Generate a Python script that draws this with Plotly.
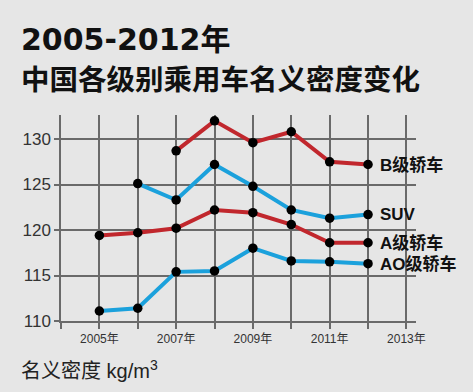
import plotly.graph_objects as go

years = [2005, 2006, 2007, 2008, 2009, 2010, 2011, 2012]
b_sedan = [None, None, 128.7, 132.0, 129.6, 130.8, 127.5, 127.2]
suv = [None, 125.1, 123.3, 127.2, 124.8, 122.2, 121.3, 121.7]
a_sedan = [119.4, 119.7, 120.2, 122.2, 121.9, 120.6, 118.6, 118.6]
a0_sedan = [111.1, 111.4, 115.4, 115.5, 118.0, 116.6, 116.5, 116.3]

series_names = ["B级轿车", "SUV", "A级轿车", "AO级轿车"]
series_values = [b_sedan, suv, a_sedan, a0_sedan]
series_colors = ["#c1272d", "#1ba1dc", "#c1272d", "#1ba1dc"]

x_tick_years = list(range(2004, 2014))
x_tick_labels = [f"{y}年" if y % 2 == 1 else "" for y in x_tick_years]
y_ticks = [110, 115, 120, 125, 130]

title1 = "2005-2012年"
title2 = "中国各级别乘用车名义密度变化"
unit_label = "名义密度 kg/m<sup>3</sup>"

W, H = 473, 392
ML, MR, MT, MB = 61, 57, 115, 71
PW = W - ML - MR
PH = H - MT - MB

def px2paper_x(px):
    return (px - ML) / PW

def px2paper_y(py):
    return (H - MB - py) / PH

fig = go.Figure()
for name, vals, col in zip(series_names, series_values, series_colors):
    xs = [x for x, v in zip(years, vals) if v is not None]
    ys = [v for v in vals if v is not None]
    fig.add_trace(go.Scatter(
        x=xs, y=ys, mode="lines+markers", name=name,
        line=dict(color=col, width=4),
        marker=dict(color="black", size=9.5, line=dict(width=0)),
        showlegend=False, hoverinfo="skip",
    ))
    fig.add_annotation(
        x=xs[-1], y=ys[-1], text=name, showarrow=False,
        xanchor="left", yanchor="middle", xshift=10, yshift=0,
        font=dict(family="Liberation Sans, Noto Sans CJK SC", size=17, color="#111", weight="bold"),
    )

fig.add_annotation(
    xref="paper", yref="paper", x=px2paper_x(19), y=px2paper_y(40),
    text=title1, showarrow=False, xanchor="left", yanchor="middle",
    font=dict(family="DejaVu Sans, Noto Sans CJK SC", size=30, color="#111", weight="bold"),
)
fig.add_annotation(
    xref="paper", yref="paper", x=px2paper_x(19), y=px2paper_y(77),
    text=title2, showarrow=False, xanchor="left", yanchor="middle",
    font=dict(family="Noto Sans CJK SC", size=28.5, color="#111", weight="bold"),
)
fig.add_annotation(
    xref="paper", yref="paper", x=px2paper_x(19), y=px2paper_y(369),
    text=unit_label, showarrow=False, xanchor="left", yanchor="middle",
    font=dict(family="Liberation Sans, Noto Sans CJK SC", size=20, color="#222"),
)

grid_col = "#6a6a6a"
fig.update_xaxes(
    range=[2004, 2013.25], tickvals=x_tick_years, ticktext=x_tick_labels,
    showgrid=True, gridcolor=grid_col, gridwidth=1.5,
    showline=True, linecolor=grid_col, linewidth=1.5,
    ticks="outside", ticklen=6, tickcolor=grid_col, tickwidth=1.5,
    tickfont=dict(family="Liberation Sans, Noto Sans CJK SC", size=12, color="#333"),
    zeroline=False, fixedrange=True,
)
fig.update_yaxes(
    range=[110, 132.64], tickvals=y_ticks,
    showgrid=True, gridcolor=grid_col, gridwidth=1.5,
    showline=True, linecolor=grid_col, linewidth=1.5,
    ticks="outside", ticklen=5, tickcolor=grid_col, tickwidth=1.5,
    tickfont=dict(family="Liberation Sans", size=17, color="#333"),
    zeroline=False, fixedrange=True,
)
fig.update_layout(
    width=W, height=H,
    margin=dict(l=ML, r=MR, t=MT, b=MB, autoexpand=False),
    paper_bgcolor="#e6e6e6", plot_bgcolor="#e6e6e6",
    showlegend=False,
)
fig.write_html(
    "out.html",
    config={"displayModeBar": False},
    post_script="document.body.style.margin='0';document.body.style.background='#e6e6e6';",
)
